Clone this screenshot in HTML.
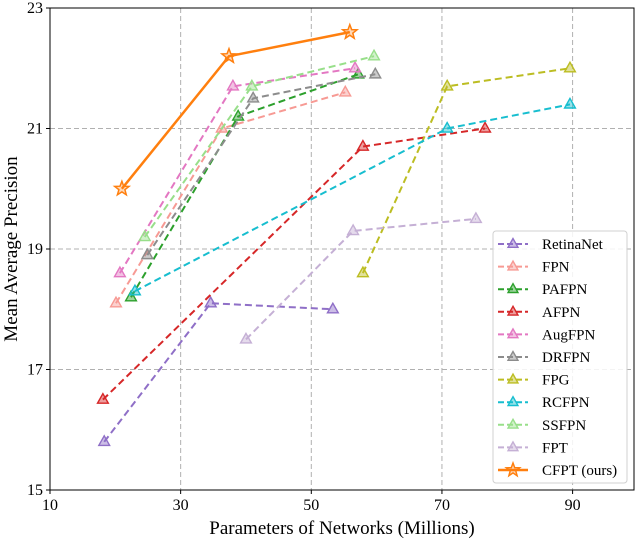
<!DOCTYPE html>
<html><head><meta charset="utf-8"><style>
html,body{margin:0;padding:0;background:#fff;}
svg{display:block;font-family:"Liberation Serif",serif;}
</style></head><body>
<svg id="chart" width="636" height="542"></svg>
<script>
const seriesNames=["RetinaNet","FPN","PAFPN","AFPN","AugFPN","DRFPN","FPG","RCFPN","SSFPN","FPT","CFPT (ours)"];
const retinaX=[18.3,34.6,53.3], retinaY=[15.8,18.1,18.0];
const fpnX=[20.1,36.3,55.2], fpnY=[18.1,21.0,21.6];
const pafpnX=[22.4,38.8,57.2], pafpnY=[18.2,21.2,21.9];
const afpnX=[18.1,57.9,76.6], afpnY=[16.5,20.7,21.0];
const augX=[20.7,38.0,56.7], augY=[18.6,21.7,22.0];
const drX=[24.9,41.1,59.8], drY=[18.9,21.5,21.9];
const fpgX=[57.9,70.8,89.6], fpgY=[18.6,21.7,22.0];
const rcX=[23.0,70.8,89.6], rcY=[18.3,21.0,21.4];
const ssX=[24.5,40.9,59.6], ssY=[19.2,21.7,22.2];
const fptX=[40.0,56.4,75.2], fptY=[17.5,19.3,19.5];
const cfptX=[21.0,37.4,55.9], cfptY=[20.0,22.2,22.6];
const xTicks=[10,30,50,70,90];
const yTicks=[15,17,19,21,23];
const colors=["#8f6fc7","#f79a94","#2ca02c","#d62728","#e377c2","#8c8c8c","#bcbd22","#17becf","#98df8a","#c5b0d5","#ff7f0e"];
const allX=[retinaX,fpnX,pafpnX,afpnX,augX,drX,fpgX,rcX,ssX,fptX,cfptX];
const allY=[retinaY,fpnY,pafpnY,afpnY,augY,drY,fpgY,rcY,ssY,fptY,cfptY];
const L=50,R=634,T=8,B=490;
const sx=v=>L+(v-10)*(R-L)/89.4;
const sy=v=>B-(v-15)*(B-T)/8;
const NS="http://www.w3.org/2000/svg";
const svg=document.getElementById('chart');
function mk(t,a,p){const e=document.createElementNS(NS,t);for(const k in a)e.setAttribute(k,a[k]);(p||svg).appendChild(e);return e;}
xTicks.forEach(v=>{const g=mk('line',{x1:sx(v),x2:sx(v),y1:T,y2:B,stroke:'#b0b0b0','stroke-dasharray':'5,3','stroke-width':1});
});
yTicks.forEach(v=>{const g=mk('line',{x1:L,x2:R,y1:sy(v),y2:sy(v),stroke:'#b0b0b0','stroke-dasharray':'5,3','stroke-width':1});
});
function tri(x,y,c,p,s){s=s||6;const e=mk('polygon',{points:`${x},${y-s} ${x-s*0.9},${y+s*0.6} ${x+s*0.9},${y+s*0.6}`,fill:c,'fill-opacity':0.45,stroke:c,'stroke-width':1.4},p);return e;}
function star(x,y,c,p,r){r=r||7.5;let pts=[];for(let i=0;i<10;i++){const rr=i%2?r*0.42:r;const a=-Math.PI/2+i*Math.PI/5;pts.push((x+rr*Math.cos(a)).toFixed(1)+','+(y+rr*Math.sin(a)).toFixed(1));}
return mk('polygon',{points:pts.join(' '),fill:c,'fill-opacity':0.3,stroke:c,'stroke-width':1.5},p);}
allX.forEach((xs,i)=>{const g=mk('g',{});


const last=i===10;
mk('polyline',{points:xs.map((x,j)=>sx(x)+','+sy(allY[i][j])).join(' '),fill:'none',stroke:colors[i],'stroke-width':last?2.5:2,'stroke-dasharray':last?'none':'7,4'},g);
xs.forEach((x,j)=>{const m=last?star(sx(x),sy(allY[i][j]),colors[i],g):tri(sx(x),sy(allY[i][j]),colors[i],g);
});
});
const fr=mk('rect',{x:L,y:T,width:R-L,height:B-T,fill:'none',stroke:'#000','stroke-width':1});

xTicks.forEach(v=>{mk('line',{x1:sx(v),x2:sx(v),y1:B,y2:B+4,stroke:'#000'});
const t=mk('text',{x:sx(v),y:B+20,'text-anchor':'middle','font-size':16});t.textContent=v;
});
yTicks.forEach(v=>{mk('line',{x1:L-4,x2:L,y1:sy(v),y2:sy(v),stroke:'#000'});
const t=mk('text',{x:L-7,y:sy(v)+5,'text-anchor':'end','font-size':16});t.textContent=v;
});
const xl=mk('text',{x:342,y:534,'text-anchor':'middle','font-size':19});xl.textContent='Parameters of Networks (Millions)';

const yl=mk('text',{x:0,y:0,'text-anchor':'middle','font-size':19,transform:`translate(17,${(T+B)/2}) rotate(-90)`});yl.textContent='Mean Average Precision';

const lg=mk('g',{});
mk('rect',{x:493,y:231,width:134,height:252,rx:3,fill:'#fff','fill-opacity':0.85,stroke:'#d0d0d0'},lg);
seriesNames.forEach((n,i)=>{const y=244+i*22.6;const e=mk('g',{},lg);

const last=i===10;
mk('line',{x1:498,x2:528,y1:y,y2:y,stroke:colors[i],'stroke-width':last?2.5:2,'stroke-dasharray':last?'none':'6,3'},e);
if(last)star(513,y,colors[i],e,7);else tri(513,y,colors[i],e,5.5);
const t=mk('text',{x:542,y:y+5,'font-size':15},e);t.textContent=n;});
</script>
</body></html>
